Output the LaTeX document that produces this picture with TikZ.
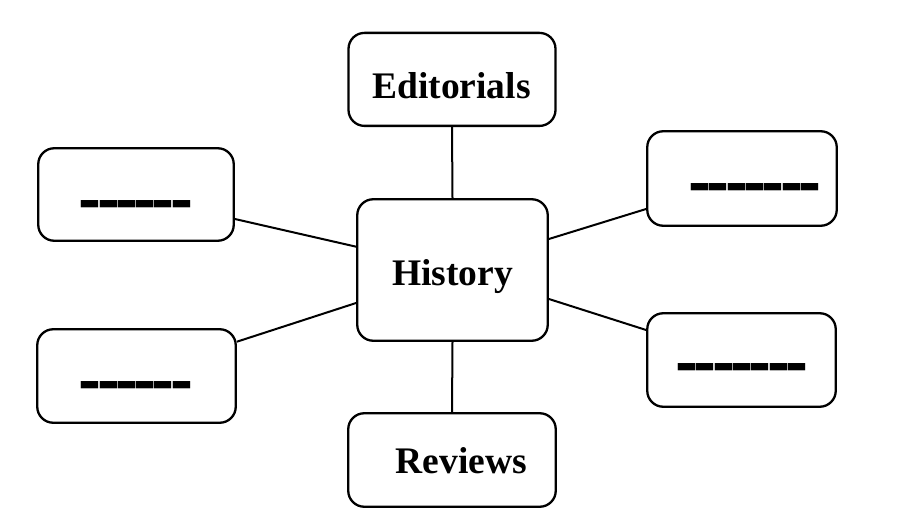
\documentclass[tikz,border=0pt]{standalone}
\usepackage{fontspec}
\usepackage{graphicx}
\setmainfont{Liberation Serif}
\newcommand\dsh{\makebox[18.3pt]{\scalebox{0.94}[2.9]{\bfseries –}}}
\begin{document}
\begin{tikzpicture}[x=1pt,y=1pt,
  box/.style={draw=black, line width=2.3pt, rounded corners=16pt, inner sep=0pt, fill=white},
  lbl/.style={anchor=base, inner sep=0pt, font=\fontsize{37.5}{40}\selectfont\bfseries},
  dlbl/.style={anchor=base, inner sep=0pt, font=\fontsize{36}{40}\selectfont},
  conn/.style={draw=black, line width=2pt}]
\useasboundingbox (0,0) rectangle (913,525);
\fill[white] (0,0) rectangle (913,525);
% boxes
\node[box, minimum width=207pt, minimum height=93pt] (ed) at (452,445.6) {};
\node[box, minimum width=190.5pt, minimum height=141.5pt] (hist) at (452.5,255) {};
\node[box, minimum width=207.5pt, minimum height=93.5pt] (rev) at (452,65) {};
\node[box, minimum width=195.5pt, minimum height=92.5pt] (lt) at (136,330.5) {};
\node[box, minimum width=198.5pt, minimum height=93.5pt] (lb) at (136.5,149) {};
\node[box, minimum width=189.5pt, minimum height=94.5pt] (rt) at (742,346.5) {};
\node[box, minimum width=188.5pt, minimum height=93.5pt] (rb) at (741.5,165) {};
% labels
\node[lbl] (edt) at (451.5,426) {Editorials};
\node[lbl] (histt) at (452.5,239) {History};
\node[lbl] (revt) at (461.5,52) {Reviews};
\node[dlbl] (ltt) at (136,296.9) {\dsh\dsh\dsh\dsh\dsh\dsh};
\node[dlbl] (lbt) at (136,115.9) {\dsh\dsh\dsh\dsh\dsh\dsh};
\node[dlbl] (rtt) at (755,313.9) {\dsh\dsh\dsh\dsh\dsh\dsh\dsh};
\node[dlbl] (rbt) at (742,133.6) {\dsh\dsh\dsh\dsh\dsh\dsh\dsh};
% connectors
\draw[conn] (ed.south) -- (hist.north);
\draw[conn] (hist.south) -- (rev.north);
\draw[conn] ([yshift=-24.5pt]lt.east) -- ([yshift=23.3pt]hist.west);
\draw[conn] ([yshift=34.3pt]lb.east) -- ([yshift=-33pt]hist.west);
\draw[conn] ([yshift=31pt]hist.east) -- ([yshift=-30.5pt]rt.west);
\draw[conn] ([yshift=-29pt]hist.east) -- ([yshift=30pt]rb.west);
\end{tikzpicture}
\end{document}
